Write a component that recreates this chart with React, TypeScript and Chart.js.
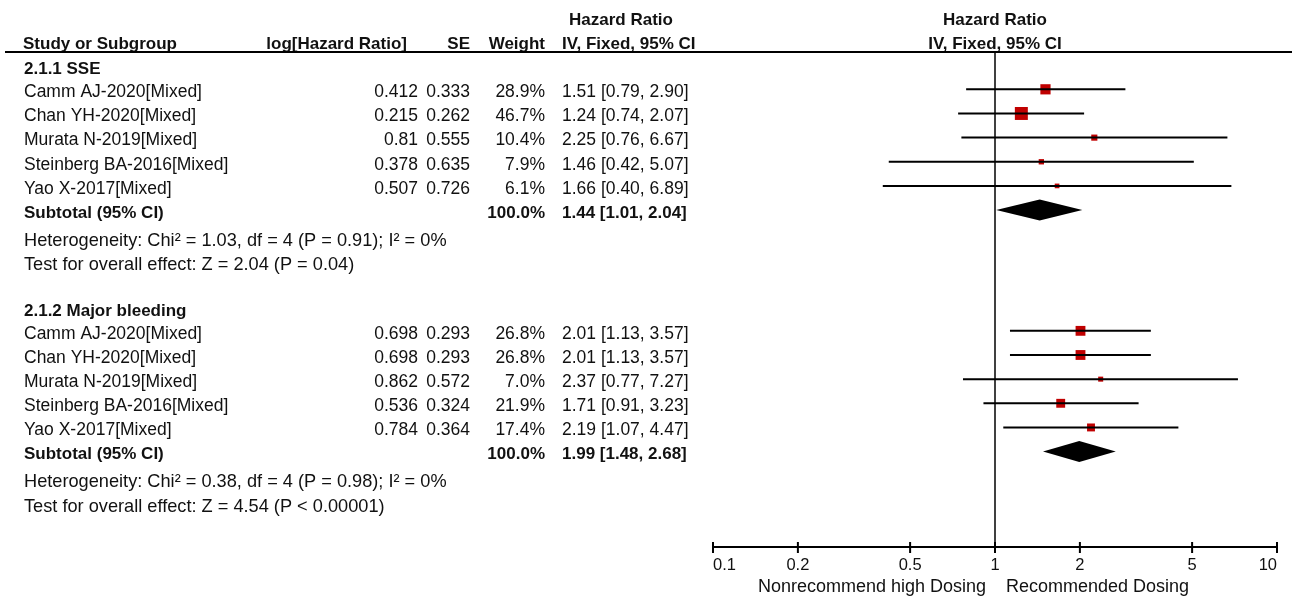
import React, { useEffect, useRef } from "react";
import { Chart, registerables } from "chart.js";

Chart.register(...registerables);

// ---------- data ----------
const groupTitles = ["2.1.1 SSE", "2.1.2 Major bleeding"];

const sseStudies = ["Camm AJ-2020[Mixed]", "Chan YH-2020[Mixed]", "Murata N-2019[Mixed]", "Steinberg BA-2016[Mixed]", "Yao X-2017[Mixed]"];
const sseLogHR = ["0.412", "0.215", "0.81", "0.378", "0.507"];
const sseSE = ["0.333", "0.262", "0.555", "0.635", "0.726"];
const sseWeight = [28.9, 46.7, 10.4, 7.9, 6.1];
const sseHR = [1.51, 1.24, 2.25, 1.46, 1.66];
const sseLow = [0.79, 0.74, 0.76, 0.42, 0.4];
const sseHigh = [2.9, 2.07, 6.67, 5.07, 6.89];
const sseTotal = [1.44, 1.01, 2.04];
const sseHet = "Heterogeneity: Chi² = 1.03, df = 4 (P = 0.91); I² = 0%";
const sseTest = "Test for overall effect: Z = 2.04 (P = 0.04)";

const bleedStudies = ["Camm AJ-2020[Mixed]", "Chan YH-2020[Mixed]", "Murata N-2019[Mixed]", "Steinberg BA-2016[Mixed]", "Yao X-2017[Mixed]"];
const bleedLogHR = ["0.698", "0.698", "0.862", "0.536", "0.784"];
const bleedSE = ["0.293", "0.293", "0.572", "0.324", "0.364"];
const bleedWeight = [26.8, 26.8, 7.0, 21.9, 17.4];
const bleedHR = [2.01, 2.01, 2.37, 1.71, 2.19];
const bleedLow = [1.13, 1.13, 0.77, 0.91, 1.07];
const bleedHigh = [3.57, 3.57, 7.27, 3.23, 4.47];
const bleedTotal = [1.99, 1.48, 2.68];
const bleedHet = "Heterogeneity: Chi² = 0.38, df = 4 (P = 0.98); I² = 0%";
const bleedTest = "Test for overall effect: Z = 4.54 (P < 0.00001)";

const axisTicks = [0.1, 0.2, 0.5, 1, 2, 5, 10];
const axisTickLabels = ["0.1", "0.2", "0.5", "1", "2", "5", "10"];
const favoursLeft = "Nonrecommend high Dosing";
const favoursRight = "Recommended Dosing";

const headerCols = ["Study or Subgroup", "log[Hazard Ratio]", "SE", "Weight", "IV, Fixed, 95% CI"];
const effectTitle = "Hazard Ratio";
const subtotalLabel = "Subtotal (95% CI)";
const subtotalWeight = "100.0%";

// ---------- structure ----------
const groups = [
  { title: groupTitles[0], names: sseStudies, logHR: sseLogHR, se: sseSE, weight: sseWeight, hr: sseHR, low: sseLow, high: sseHigh, total: sseTotal, het: sseHet, test: sseTest },
  { title: groupTitles[1], names: bleedStudies, logHR: bleedLogHR, se: bleedSE, weight: bleedWeight, hr: bleedHR, low: bleedLow, high: bleedHigh, total: bleedTotal, het: bleedHet, test: bleedTest },
];
const ROWS_PER_GROUP = 10;
const rowBase = (g: number) => g * ROWS_PER_GROUP;

const fmt2 = (v: number) => v.toFixed(2);
const ciText = (e: number, l: number, h: number) => `${fmt2(e)} [${fmt2(l)}, ${fmt2(h)}]`;

const FONT = "'Liberation Sans', Arial, sans-serif";
const TEXT = "#111";
const TXT_DY = 3;

export default function App() {
  const ref = useRef<HTMLCanvasElement | null>(null);

  useEffect(() => {
    document.body.style.margin = "0";
    const canvas = ref.current;
    if (!canvas) return;

    const ciData: any[] = [];
    const sqData: any[] = [];
    groups.forEach((g, gi) => {
      g.names.forEach((_, i) => {
        const r = rowBase(gi) + i;
        ciData.push({ x: g.low[i], y: r });
        ciData.push({ x: g.high[i], y: r });
        ciData.push({ x: g.high[i], y: null });
        sqData.push({ x: g.hr[i], y: r, w: g.weight[i] });
      });
    });

    const tablePlugin = {
      id: "forestTable",
      beforeDatasetsDraw(chart: any) {
        const { ctx, chartArea, scales } = chart;
        const x1 = scales.x.getPixelForValue(1);
        ctx.save();
        ctx.strokeStyle = "#000";
        ctx.lineWidth = 1.5;
        ctx.beginPath();
        ctx.moveTo(x1, chartArea.top);
        ctx.lineTo(x1, chartArea.bottom);
        ctx.stroke();
        ctx.restore();
      },
      afterDatasetsDraw(chart: any) {
        const { ctx, scales } = chart;
        ctx.save();
        ctx.fillStyle = "#000";
        groups.forEach((g, gi) => {
          const yc = scales.y.getPixelForValue(rowBase(gi) + 5);
          const xl = scales.x.getPixelForValue(g.total[1]);
          const xc = scales.x.getPixelForValue(g.total[0]);
          const xr = scales.x.getPixelForValue(g.total[2]);
          ctx.beginPath();
          ctx.moveTo(xl, yc);
          ctx.lineTo(xc, yc - 10.5);
          ctx.lineTo(xr, yc);
          ctx.lineTo(xc, yc + 10.5);
          ctx.closePath();
          ctx.fill();
        });
        ctx.restore();
      },
      afterDraw(chart: any) {
        const { ctx, chartArea, scales } = chart;
        const xs = scales.x;
        const ys = scales.y;
        const x1 = xs.getPixelForValue(1);
        const reg = `17.5px ${FONT}`;
        const regWide = `18.2px ${FONT}`;
        const bold = `bold 17px ${FONT}`;
        ctx.save();
        ctx.fillStyle = TEXT;
        ctx.textBaseline = "middle";

        const text = (s: string, x: number, y: number, align: CanvasTextAlign, font: string) => {
          ctx.font = font;
          ctx.textAlign = align;
          ctx.fillText(s, x, y);
        };

        // header
        text(effectTitle, 621, 20, "center", bold);
        text(effectTitle, x1, 20, "center", bold);
        text(headerCols[0], 23, 44, "left", bold);
        text(headerCols[1], 407, 44, "right", bold);
        text(headerCols[2], 470, 44, "right", bold);
        text(headerCols[3], 545, 44, "right", bold);
        text(headerCols[4], 562, 44, "left", bold);
        text(headerCols[4], x1, 44, "center", bold);

        ctx.strokeStyle = "#000";
        ctx.lineWidth = 2;
        ctx.beginPath();
        ctx.moveTo(5, chartArea.top);
        ctx.lineTo(1292, chartArea.top);
        ctx.stroke();

        groups.forEach((g, gi) => {
          const b = rowBase(gi);
          text(g.title, 24, ys.getPixelForValue(b - 0.95) + TXT_DY, "left", bold);
          g.names.forEach((n, i) => {
            const y = ys.getPixelForValue(b + i) + TXT_DY;
            text(n, 24, y, "left", reg);
            text(g.logHR[i], 418, y, "right", reg);
            text(g.se[i], 470, y, "right", reg);
            text(`${g.weight[i].toFixed(1)}%`, 545, y, "right", reg);
            text(ciText(g.hr[i], g.low[i], g.high[i]), 562, y, "left", reg);
          });
          const ys5 = ys.getPixelForValue(b + 5) + TXT_DY;
          text(subtotalLabel, 24, ys5, "left", bold);
          text(subtotalWeight, 545, ys5, "right", bold);
          text(ciText(g.total[0], g.total[1], g.total[2]), 562, ys5, "left", bold);
          text(g.het, 24, ys.getPixelForValue(b + 6.15) + TXT_DY, "left", regWide);
          text(g.test, 24, ys.getPixelForValue(b + 7.15) + TXT_DY, "left", regWide);
        });

        // x axis
        const ay = chartArea.bottom;
        const xa = xs.getPixelForValue(axisTicks[0]);
        const xb = xs.getPixelForValue(axisTicks[axisTicks.length - 1]);
        ctx.strokeStyle = "#000";
        ctx.lineWidth = 2;
        ctx.beginPath();
        ctx.moveTo(xa, ay);
        ctx.lineTo(xb, ay);
        axisTicks.forEach((t) => {
          const px = xs.getPixelForValue(t);
          ctx.moveTo(px, ay - 5);
          ctx.lineTo(px, ay + 6);
        });
        ctx.stroke();
        axisTicks.forEach((t, i) => {
          const px = xs.getPixelForValue(t);
          const align: CanvasTextAlign = i === 0 ? "left" : i === axisTicks.length - 1 ? "right" : "center";
          text(axisTickLabels[i], px, ay + 18, align, `16.5px ${FONT}`);
        });
        text(favoursLeft, x1 - 9, ay + 40, "right", `18px ${FONT}`);
        text(favoursRight, x1 + 11, ay + 40, "left", `18px ${FONT}`);
        ctx.restore();
      },
    };

    const chart = new Chart(canvas, {
      type: "scatter",
      data: {
        datasets: [
          {
            data: ciData,
            showLine: true,
            spanGaps: false,
            borderColor: "#000",
            borderWidth: 2,
            pointRadius: 0,
          } as any,
          {
            data: sqData,
            pointStyle: "rect",
            backgroundColor: "#C00000",
            borderColor: "#C00000",
            borderWidth: 0,
            pointRadius: (c: any) => {
              const w = c.raw ? c.raw.w : 0;
              return (1.9 * Math.sqrt(w)) / Math.SQRT2;
            },
          } as any,
        ],
      },
      options: {
        animation: false,
        responsive: false,
        events: [],
        layout: { padding: { left: 713, right: 15, top: 52, bottom: 50 } },
        plugins: { legend: { display: false }, tooltip: { enabled: false } },
        scales: {
          x: { type: "logarithmic", min: 0.1, max: 10, display: false },
          y: { type: "linear", min: -1.545, max: 18.95, reverse: true, display: false },
        },
      },
      plugins: [tablePlugin],
    });
    return () => chart.destroy();
  }, []);

  return <canvas ref={ref} width={1292} height={597} style={{ display: "block" }} />;
}
